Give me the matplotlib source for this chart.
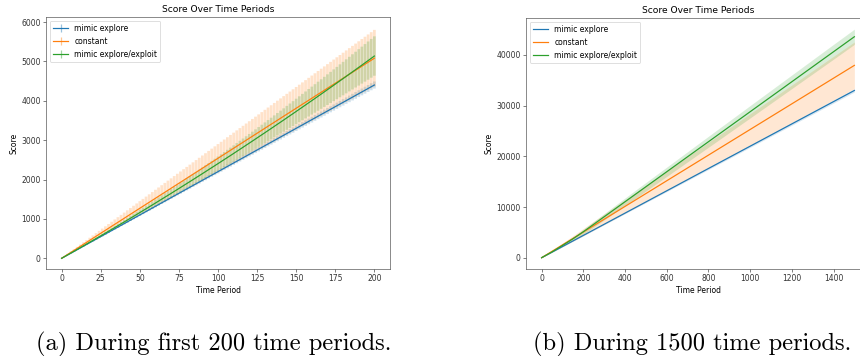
import numpy as np
import matplotlib
matplotlib.use("Agg")
import matplotlib.pyplot as plt
from matplotlib.lines import Line2D

# ---------------- data ----------------
labels = ["mimic explore", "constant", "mimic explore/exploit"]
colors = ["#1f77b4", "#ff7f0e", "#2ca02c"]

# (a) first 200 time periods, every 2nd period
t_a = list(range(0, 201, 2))
explore_a = [0, 44, 88, 132, 176, 220, 264, 308, 352, 396,
             440, 484, 528, 572, 616, 660, 704, 748, 792, 836,
             880, 924, 968, 1012, 1056, 1100, 1144, 1188, 1232, 1276,
             1320, 1364, 1408, 1452, 1496, 1540, 1584, 1628, 1672, 1716,
             1760, 1804, 1848, 1892, 1936, 1980, 2024, 2068, 2112, 2156,
             2200, 2244, 2288, 2332, 2376, 2420, 2464, 2508, 2552, 2596,
             2640, 2684, 2728, 2772, 2816, 2860, 2904, 2948, 2992, 3036,
             3080, 3124, 3168, 3212, 3256, 3300, 3344, 3388, 3432, 3476,
             3520, 3564, 3608, 3652, 3696, 3740, 3784, 3828, 3872, 3916,
             3960, 4004, 4048, 4092, 4136, 4180, 4224, 4268, 4312, 4356,
             4400]
explore_a_err = [0, 1, 2, 3, 4, 5, 5, 6, 7, 8,
                 9, 10, 11, 12, 13, 14, 14, 15, 16, 17,
                 18, 19, 20, 21, 22, 23, 23, 24, 25, 26,
                 27, 28, 29, 30, 31, 32, 32, 33, 34, 35,
                 36, 37, 38, 39, 40, 41, 41, 42, 43, 44,
                 45, 46, 47, 48, 49, 50, 50, 51, 52, 53,
                 54, 55, 56, 57, 58, 59, 59, 60, 61, 62,
                 63, 64, 65, 66, 67, 68, 68, 69, 70, 71,
                 72, 73, 74, 75, 76, 77, 77, 78, 79, 80,
                 81, 82, 83, 84, 85, 86, 86, 87, 88, 89,
                 90]
constant_a = [0, 51, 102, 152, 203, 254, 305, 356, 406, 457,
              508, 559, 610, 660, 711, 762, 813, 864, 914, 965,
              1016, 1067, 1118, 1168, 1219, 1270, 1321, 1372, 1422, 1473,
              1524, 1575, 1626, 1676, 1727, 1778, 1829, 1880, 1930, 1981,
              2032, 2083, 2134, 2184, 2235, 2286, 2337, 2388, 2438, 2489,
              2540, 2591, 2642, 2692, 2743, 2794, 2845, 2896, 2946, 2997,
              3048, 3099, 3150, 3200, 3251, 3302, 3353, 3404, 3454, 3505,
              3556, 3607, 3658, 3708, 3759, 3810, 3861, 3912, 3962, 4013,
              4064, 4115, 4166, 4216, 4267, 4318, 4369, 4420, 4470, 4521,
              4572, 4623, 4674, 4724, 4775, 4826, 4877, 4928, 4978, 5029,
              5080]
constant_a_err = [0, 7, 14, 22, 29, 36, 43, 50, 58, 65,
                  72, 79, 86, 94, 101, 108, 115, 122, 130, 137,
                  144, 151, 158, 166, 173, 180, 187, 194, 202, 209,
                  216, 223, 230, 238, 245, 252, 259, 266, 274, 281,
                  288, 295, 302, 310, 317, 324, 331, 338, 346, 353,
                  360, 367, 374, 382, 389, 396, 403, 410, 418, 425,
                  432, 439, 446, 454, 461, 468, 475, 482, 490, 497,
                  504, 511, 518, 526, 533, 540, 547, 554, 562, 569,
                  576, 583, 590, 598, 605, 612, 619, 626, 634, 641,
                  648, 655, 662, 670, 677, 684, 691, 698, 706, 713,
                  720]
mixed_a = [0, 45, 90, 135, 180, 226, 271, 317, 363, 409,
           455, 501, 547, 593, 640, 687, 734, 781, 828, 875,
           922, 970, 1017, 1065, 1113, 1161, 1209, 1257, 1306, 1354,
           1403, 1452, 1501, 1550, 1599, 1648, 1698, 1747, 1797, 1847,
           1897, 1947, 1997, 2048, 2098, 2149, 2200, 2251, 2302, 2353,
           2404, 2455, 2507, 2559, 2610, 2662, 2715, 2767, 2819, 2872,
           2924, 2977, 3030, 3083, 3136, 3189, 3243, 3296, 3350, 3404,
           3457, 3511, 3566, 3620, 3674, 3729, 3784, 3839, 3894, 3949,
           4004, 4059, 4115, 4170, 4226, 4282, 4338, 4394, 4450, 4507,
           4563, 4620, 4677, 4734, 4791, 4848, 4905, 4963, 5020, 5078,
           5136]
mixed_a_err = [0, 2, 5, 7, 9, 12, 14, 17, 19, 22,
               25, 28, 30, 33, 36, 39, 42, 45, 49, 52,
               55, 59, 62, 65, 69, 73, 76, 80, 84, 87,
               91, 95, 99, 103, 107, 111, 115, 120, 124, 128,
               133, 137, 142, 146, 151, 156, 160, 165, 170, 175,
               180, 185, 190, 195, 200, 206, 211, 216, 222, 227,
               233, 238, 244, 250, 255, 261, 267, 273, 279, 285,
               291, 297, 304, 310, 316, 323, 329, 335, 342, 349,
               355, 362, 369, 375, 382, 389, 396, 403, 410, 418,
               425, 432, 439, 447, 454, 462, 469, 477, 485, 492,
               500]

# (b) 1500 time periods, sampled every 50 periods
t_b = list(range(0, 1501, 50))
explore_b = [0, 1100, 2200, 3300, 4400, 5500, 6600, 7700, 8800, 9900, 11000, 12100,
             13200, 14300, 15400, 16500, 17600, 18700, 19800, 20900, 22000, 23100,
             24200, 25300, 26400, 27500, 28600, 29700, 30800, 31900, 33000]
explore_b_err = [0, 25, 45, 60, 75, 85, 95, 105, 115, 125, 135, 145, 155, 165, 175, 185,
                 195, 200, 210, 215, 225, 230, 240, 245, 255, 260, 270, 275, 285, 290, 300]
constant_b = [0, 1265, 2530, 3795, 5060, 6325, 7590, 8855, 10120, 11385, 12650, 13915,
              15180, 16445, 17710, 18975, 20240, 21505, 22770, 24035, 25300, 26565,
              27830, 29095, 30360, 31625, 32890, 34155, 35420, 36685, 37950]
constant_b_err = [0, 180, 360, 530, 700, 860, 1020, 1170, 1320, 1470, 1620, 1770, 1920,
                  2070, 2220, 2370, 2520, 2670, 2820, 2970, 3120, 3270, 3420, 3570, 3720,
                  3870, 4020, 4170, 4320, 4470, 4620]
mixed_b = [0, 1150, 2420, 3720, 5120, 6600, 8080, 9560, 11040, 12520, 14000, 15480,
           16960, 18440, 19920, 21400, 22880, 24360, 25840, 27320, 28800, 30280, 31760,
           33240, 34720, 36200, 37680, 39160, 40640, 42120, 43600]
mixed_b_err = [0, 60, 180, 330, 500, 560, 620, 680, 740, 800, 840, 880, 920, 960, 1000,
               1040, 1080, 1120, 1150, 1180, 1220, 1250, 1280, 1310, 1340, 1370, 1400,
               1430, 1460, 1480, 1500]

captions = ["(a) During first 200 time periods.", "(b) During 1500 time periods."]

# ---------------- figure ----------------
DPI = 55
W, H = 860, 356
fig = plt.figure(figsize=(W / DPI, H / DPI), dpi=DPI)
plt.rcParams["font.family"] = ["DejaVu Sans"]

ax_a = fig.add_axes([46 / W, 1 - 269 / H, 344 / W, 252 / H])
ax_b = fig.add_axes([526 / W, 1 - 269 / H, 344 / W, 251 / H])

series_a = [(explore_a, explore_a_err), (constant_a, constant_a_err), (mixed_a, mixed_a_err)]
for (m, e), c in zip(series_a, colors):
    eb = ax_a.errorbar(t_a, m, yerr=e, fmt="none",
                       ecolor=matplotlib.colors.to_rgba(c, 0.22),
                       elinewidth=3.6, zorder=2)
    for col in eb[2]:
        col.set_snap(False)
        col.set_capstyle("butt")
for (m, e), c, lab in zip(series_a, colors, labels):
    ax_a.plot(t_a, m, color=c, lw=1.6, zorder=3)

handles = [Line2D([], [], color=c, lw=1.6, marker="|", markersize=11,
                  markeredgewidth=1.6, markeredgecolor=matplotlib.colors.to_rgba(c, 0.45))
           for c in colors]
ax_a.legend(handles, labels, loc="upper left", numpoints=1)

ax_a.set_xlim(-10, 210)
ax_a.set_ylim(-272, 6127)
ax_a.set_xticks(range(0, 201, 25))
ax_a.set_yticks(range(0, 6001, 1000))
ax_a.set_title("Score Over Time Periods")
ax_a.set_xlabel("Time Period")
ax_a.set_ylabel("Score")

series_b = [(explore_b, explore_b_err), (constant_b, constant_b_err), (mixed_b, mixed_b_err)]
for (m, e), c, lab in zip(series_b, colors, labels):
    m = np.array(m, dtype=float)
    e = np.array(e, dtype=float)
    ax_b.fill_between(t_b, m - e, m + e, color=c, alpha=0.18, lw=0)
for (m, e), c, lab in zip(series_b, colors, labels):
    ax_b.plot(t_b, m, color=c, lw=1.6, label=lab, zorder=3)
ax_b.legend(loc="upper left")
ax_b.set_xlim(-75, 1575)
ax_b.set_ylim(-2230, 47300)
ax_b.set_xticks(range(0, 1401, 200))
ax_b.set_yticks(range(0, 40001, 10000))
ax_b.set_title("Score Over Time Periods")
ax_b.set_xlabel("Time Period")
ax_b.set_ylabel("Score")

for ax in (ax_a, ax_b):
    ax.tick_params(colors="#333333", labelcolor="#333333")
    for sp in ax.spines.values():
        sp.set_color("#444444")

fig.text(213.5 / W, 1 - 350 / H, captions[0], fontfamily="cmr10", fontsize=32,
         ha="center", va="baseline")
fig.text(692.5 / W, 1 - 350 / H, captions[1], fontfamily="cmr10", fontsize=32,
         ha="center", va="baseline")

fig.savefig("out.png", dpi=DPI)
